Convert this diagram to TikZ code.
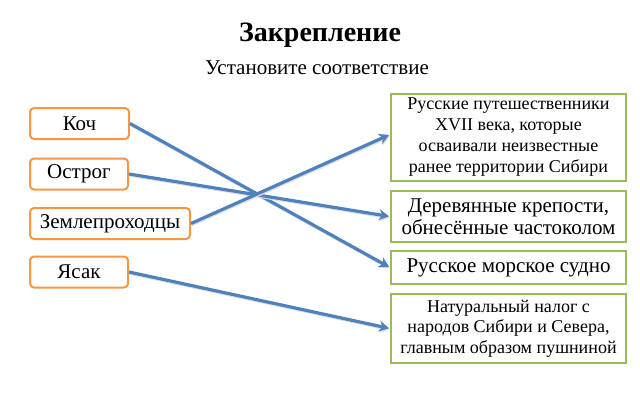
\documentclass[tikz,border=0pt]{standalone}
\usepackage{fontspec}
\setmainfont{Liberation Serif}
\usetikzlibrary{arrows.meta}
\definecolor{orng}{RGB}{247,150,70}
\definecolor{grn}{RGB}{155,187,89}
\definecolor{arr}{RGB}{79,129,189}
\tikzset{
  leftbox/.style={draw=orng, line width=2pt, rounded corners=4pt, fill=white, inner sep=0pt, minimum height=31pt, font=\fontsize{21}{24}\selectfont, anchor=west},
  rightbox/.style={draw=grn, line width=2pt, fill=white, inner sep=0pt, minimum width=235pt, align=center, anchor=north west},
  conn/.style={draw=arr, line width=3.2pt, -{Stealth[length=10pt,width=11pt]}, shorten >=1pt,
    preaction={draw=black!12, line width=3.2pt, transform canvas={xshift=0.8pt,yshift=-1.2pt}}}
}
\begin{document}
\begin{tikzpicture}[x=1pt,y=-1pt]
\useasboundingbox (0,0) rectangle (640,400);
\node[font=\bfseries\fontsize{28}{32}\selectfont] (title) at (320,35) {Закрепление};
\node[font=\fontsize{21}{24}\selectfont] (sub) at (317,68) {Установите соответствие};

\node[leftbox, minimum width=99pt] (koch) at (29,123.5) {Коч};
\node[leftbox, minimum width=98pt] (ostrog) at (29,174) {Острог};
\node[leftbox, minimum width=160pt] (zeml) at (29,223.5) {Землепроходцы};
\node[leftbox, minimum width=98pt] (yasak) at (29,272) {Ясак};

\node[rightbox, minimum height=87pt, font=\fontsize{18}{21}\selectfont] (r1) at (390,93) {Русские путешественники\\XVII века, которые\\осваивали неизвестные\\ранее территории Сибири};
\node[rightbox, minimum height=51pt, font=\fontsize{21}{22}\selectfont] (r2) at (390,190) {Деревянные крепости,\\обнесённые частоколом};
\node[rightbox, minimum height=33pt, font=\fontsize{21}{22}\selectfont] (r3) at (390,250) {Русское морское судно};
\node[rightbox, minimum height=69pt, font=\fontsize{18}{20.5}\selectfont] (r4) at (390,293) {Натуральный налог с\\народов Сибири и Севера,\\главным образом пушниной};

\draw[conn] (koch.east) -- (r3.west);
\draw[conn] (ostrog.east) -- (r2.west);
\draw[conn] (zeml.east) -- ([yshift=3pt]r1.west);
\draw[conn] (yasak.east) -- (r4.west);
\end{tikzpicture}
\end{document}
